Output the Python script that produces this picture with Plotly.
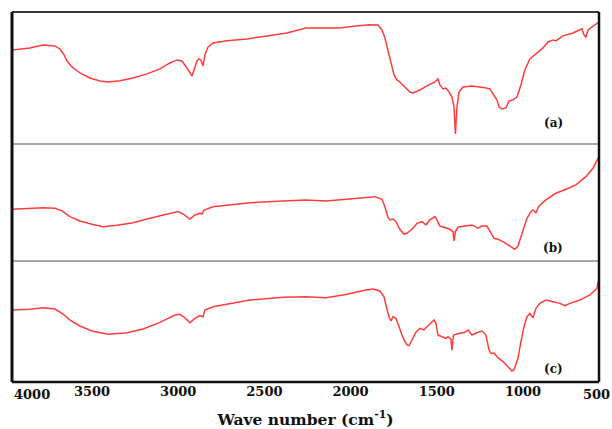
import plotly.graph_objects as go

# FTIR spectra, wavenumber (cm-1) vs transmittance (a.u.)
wn_a = [3964, 3918, 3860, 3784, 3715, 3686, 3662, 3645, 3616, 3570, 3512, 3454, 3407, 3338, 3262,
        3181, 3106, 3048, 3007, 2978, 2955, 2937, 2920, 2908, 2891, 2879, 2868, 2856, 2845, 2827,
        2798, 2717, 2601, 2485, 2369, 2259, 2062, 1969, 1888, 1841, 1818, 1801, 1783, 1766, 1748,
        1731, 1714, 1685, 1656, 1638, 1598, 1557, 1511, 1493, 1482, 1464, 1447, 1429, 1412, 1400,
        1392, 1383, 1371, 1348, 1296, 1221, 1192, 1174, 1151, 1139, 1122, 1099, 1081, 1058, 1035,
        1012, 989, 960, 919, 884, 855, 826, 809, 768, 710, 658, 646, 635, 623, 583, 559]
tr_a = [71.3, 72.2, 72.8, 75.0, 74.3, 72.0, 67.5, 62.9, 58.4, 53.8, 50.0, 47.8, 47.0, 48.0, 50.0,
        53.1, 56.9, 61.4, 63.7, 62.9, 59.1, 55.3, 51.5, 56.1, 62.9, 64.4, 63.7, 59.1, 67.5, 73.5,
        76.6, 78.3, 79.6, 81.9, 84.1, 87.9, 87.9, 89.4, 90.4, 90.2, 86.4, 80.3, 71.3, 62.2, 52.3,
        48.5, 47.0, 43.2, 39.4, 38.7, 40.9, 44.0, 47.0, 49.3, 44.7, 41.7, 42.4, 39.4, 35.6, 28.0,
        7.6, 28.0, 39.4, 43.2, 44.0, 42.7, 41.7, 37.9, 33.4, 28.0, 26.5, 27.3, 32.6, 33.4, 35.6,
        44.7, 56.1, 64.4, 69.0, 72.8, 77.3, 78.8, 78.1, 81.9, 84.1, 87.2, 82.6, 81.1, 86.4, 90.2, 92.5]

wn_b = [3964, 3860, 3784, 3715, 3674, 3628, 3570, 3500, 3436, 3355, 3262, 3164, 3065, 3001, 2972,
        2932, 2903, 2874, 2862, 2850, 2798, 2682, 2584, 2392, 2259, 2143, 2027, 1911, 1859, 1818,
        1801, 1783, 1772, 1754, 1737, 1714, 1690, 1673, 1638, 1615, 1586, 1563, 1540, 1511, 1499,
        1482, 1447, 1424, 1406, 1400, 1392, 1377, 1337, 1296, 1261, 1238, 1209, 1192, 1168, 1145,
        1116, 1076, 1047, 1029, 1012, 994, 977, 954, 942, 925, 907, 867, 809, 751, 693, 635, 594, 559]
tr_b = [44.2, 45.1, 45.6, 45.1, 42.8, 37.9, 34.2, 31.4, 29.3, 30.5, 32.7, 36.5, 40.2, 42.2, 40.2,
        35.9, 39.3, 40.8, 40.2, 43.6, 46.4, 47.9, 49.8, 51.3, 52.2, 51.3, 52.8, 54.5, 55.0, 52.8,
        46.4, 37.4, 35.1, 35.9, 33.6, 27.1, 22.8, 23.7, 28.0, 32.2, 33.6, 30.8, 35.1, 37.9, 35.1,
        29.9, 28.0, 27.1, 25.1, 17.1, 25.1, 28.8, 29.9, 30.8, 28.0, 29.9, 29.9, 25.9, 19.4, 18.6,
        16.5, 12.8, 10.0, 12.8, 20.8, 29.3, 36.5, 42.2, 43.6, 41.3, 47.0, 52.2, 57.9, 61.3, 65.0,
        72.1, 79.3, 89.2]

wn_c = [3964, 3860, 3784, 3715, 3668, 3628, 3570, 3500, 3407, 3297, 3204, 3106, 3019, 2990, 2961,
        2932, 2903, 2874, 2856, 2845, 2798, 2682, 2584, 2392, 2259, 2143, 2027, 1911, 1870, 1830,
        1806, 1795, 1777, 1766, 1754, 1737, 1719, 1696, 1673, 1661, 1644, 1621, 1598, 1574, 1557,
        1534, 1516, 1505, 1493, 1470, 1447, 1435, 1418, 1412, 1403, 1377, 1337, 1319, 1296, 1261,
        1238, 1215, 1197, 1186, 1168, 1145, 1116, 1087, 1064, 1052, 1029, 1012, 994, 977, 960,
        942, 925, 902, 867, 826, 786, 757, 728, 670, 612, 571, 565, 559]
tr_c = [59.5, 60.1, 61.4, 60.3, 56.2, 51.2, 46.3, 42.1, 39.4, 40.7, 43.8, 49.3, 55.3, 55.9, 53.1,
        49.0, 52.6, 54.8, 53.9, 59.5, 62.2, 65.0, 67.7, 70.0, 70.5, 69.6, 72.4, 76.0, 76.8, 75.2,
        70.5, 63.6, 53.9, 50.4, 53.9, 52.6, 45.7, 36.6, 30.6, 30.0, 34.7, 41.1, 44.4, 43.0, 45.7,
        48.5, 51.2, 48.5, 38.8, 37.4, 36.1, 37.4, 35.5, 26.4, 38.8, 39.9, 41.1, 43.0, 38.8, 41.1,
        42.1, 38.8, 26.4, 23.7, 23.7, 20.1, 16.8, 12.6, 9.1, 9.9, 19.6, 33.3, 45.7, 53.9, 56.7,
        53.1, 60.9, 65.0, 67.7, 66.3, 65.0, 63.0, 65.0, 67.7, 71.9, 77.4, 82.8, 80.1]

panel_labels = ["(a)", "(b)", "(c)"]
tick_vals = [3500, 3000, 2500, 2000, 1500, 1000]
tick_text = ["3500", "3000", "2500", "2000", "1500", "1000"]
end_labels = ["4000", "500"]
x_title = "Wave number (cm<sup>-1</sup>)"

W, H = 612, 429
LEFT, RIGHT = 12, 599
ROWS = [(12, 144), (144, 261), (261, 382)]  # pixel top/bottom of each panel


def px_x(p):
    return p / W


def px_y(p):
    return (H - p) / H


LINE = "#ff3d3d"
FONT = dict(family="DejaVu Serif", size=13, color="#111111", weight="bold")

fig = go.Figure()
series = [(wn_a, tr_a), (wn_b, tr_b), (wn_c, tr_c)]
axis_names = ["y", "y2", "y3"]
for (wn, tr), ax in zip(series, axis_names):
    fig.add_trace(go.Scatter(x=wn, y=tr, mode="lines", yaxis=ax,
                             line=dict(color=LINE, width=1.5), showlegend=False,
                             hoverinfo="skip"))

layout = dict(
    width=W, height=H,
    margin=dict(l=0, r=0, t=0, b=0),
    paper_bgcolor="white", plot_bgcolor="white",
    xaxis=dict(range=[3964, 559], domain=[px_x(LEFT), px_x(RIGHT)],
               tickvals=tick_vals, ticktext=tick_text, ticks="",
               showgrid=False, zeroline=False, showline=False,
               tickfont=FONT, anchor="y3",
               title=dict(text=x_title, font=dict(family="DejaVu Serif", size=15.5,
                                                  color="#111111", weight="bold"),
                          standoff=17)),
)
for i, (top, bot) in enumerate(ROWS):
    key = "yaxis" if i == 0 else f"yaxis{i + 1}"
    layout[key] = dict(domain=[px_y(bot), px_y(top)], range=[0, 100],
                       visible=False, fixedrange=True)
fig.update_layout(**layout)

# frame and panel separators
x0, x1 = px_x(LEFT), px_x(RIGHT)
fig.add_shape(type="line", xref="paper", yref="paper", x0=x0, x1=x1,
              y0=px_y(ROWS[0][0]), y1=px_y(ROWS[0][0]), line=dict(color="#3a3a3a", width=2))
for top, bot in ROWS[1:]:
    fig.add_shape(type="line", xref="paper", yref="paper", x0=x0, x1=x1,
                  y0=px_y(top), y1=px_y(top), line=dict(color="#a8a8a8", width=2))
fig.add_shape(type="line", xref="paper", yref="paper", x0=x0, x1=x1,
              y0=px_y(ROWS[-1][1]), y1=px_y(ROWS[-1][1]), line=dict(color="#111111", width=2.5))
fig.add_shape(type="line", xref="paper", yref="paper", x0=x0, x1=x0,
              y0=px_y(ROWS[-1][1]), y1=px_y(ROWS[0][0]), line=dict(color="#111111", width=3))
fig.add_shape(type="line", xref="paper", yref="paper", x0=x1, x1=x1,
              y0=px_y(ROWS[-1][1]), y1=px_y(ROWS[0][0]), line=dict(color="#111111", width=2.5))

# end labels of the wavenumber scale sit flush with the frame
fig.add_annotation(text=end_labels[0], xref="paper", yref="paper", x=px_x(LEFT), xanchor="left",
                   y=px_y(394), yanchor="middle", showarrow=False, font=FONT)
fig.add_annotation(text=end_labels[1], xref="paper", yref="paper", x=1.0, xanchor="right",
                   y=px_y(394), yanchor="middle", showarrow=False, font=FONT)

# panel labels
for lab, yp in zip(panel_labels, [123, 248, 369]):
    fig.add_annotation(text=lab, xref="paper", yref="paper", x=px_x(553), y=px_y(yp),
                       showarrow=False, xanchor="center", yanchor="middle",
                       font=dict(family="DejaVu Serif", size=12, color="#111111", weight="bold"))

fig.write_html("out.html")
